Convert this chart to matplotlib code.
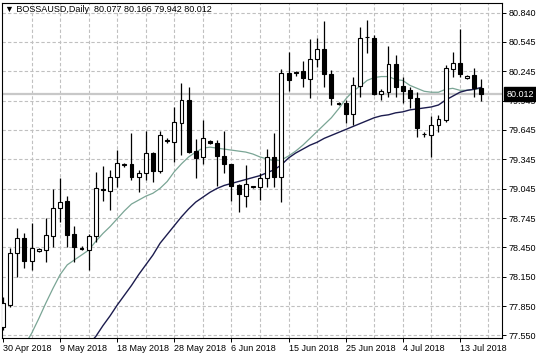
import numpy as np
import matplotlib
matplotlib.use('Agg')
import matplotlib.pyplot as plt

# daily bars (MT4 style, sunday bars included)
opens = [77.633, 77.860, 78.388, 78.541, 78.309, 78.410, 78.422, 78.564, 78.847, 78.922,
         78.582, 78.445, 78.421, 78.567, 79.040, 79.027, 79.163, 79.290, 79.296, 79.163,
         79.204, 79.414, 79.231, 79.540, 79.527, 79.721, 79.952, 79.432, 79.367, 79.530,
         79.510, 79.384, 79.296, 79.085, 78.976, 79.060, 79.061, 79.159, 79.374, 79.163,
         80.225, 80.240, 80.251, 80.166, 80.367, 80.469, 80.214, 79.925, 79.918, 79.806,
         80.095, 80.595, 80.588, 80.013, 80.037, 80.316, 80.095, 80.054, 79.969, 79.605,
         79.595, 79.697, 79.748, 80.268, 80.326, 80.173, 80.207, 80.077]
highs = [77.945, 78.439, 78.643, 78.592, 78.694, 78.440, 78.745, 79.041, 79.159, 78.976,
         78.666, 78.460, 78.582, 79.214, 79.282, 79.238, 79.442, 79.310, 79.612, 79.238,
         79.636, 79.425, 79.636, 79.560, 79.884, 80.123, 80.088, 79.551, 79.748, 79.540,
         79.544, 79.636, 79.296, 79.092, 79.289, 79.075, 79.204, 79.452, 79.612, 80.265,
         80.445, 80.245, 80.350, 80.575, 80.580, 80.761, 80.258, 79.935, 79.952, 80.190,
         80.700, 80.768, 80.615, 80.064, 80.506, 80.411, 80.190, 80.088, 80.037, 79.625,
         79.789, 79.799, 80.309, 80.445, 80.677, 80.205, 80.276, 80.166]
lows = [77.605, 77.843, 78.149, 78.235, 78.218, 78.400, 78.302, 78.455, 78.710, 78.455,
        78.302, 78.420, 78.218, 78.506, 78.925, 78.830, 79.067, 79.270, 79.136, 79.016,
        79.136, 79.119, 79.204, 79.510, 79.323, 79.391, 79.408, 79.153, 79.296, 79.500,
        79.075, 79.204, 78.925, 78.812, 78.863, 79.055, 78.932, 79.061, 79.067, 78.914,
        80.047, 80.200, 80.088, 79.976, 80.292, 80.082, 79.901, 79.905, 79.721, 79.697,
        79.986, 80.429, 80.003, 79.952, 79.986, 79.986, 79.918, 79.874, 79.578, 79.578,
        79.374, 79.629, 79.731, 80.190, 80.190, 80.165, 79.986, 79.942]
closes = [77.878, 78.388, 78.541, 78.309, 78.439, 78.430, 78.575, 78.853, 78.914, 78.575,
          78.449, 78.430, 78.567, 79.051, 79.030, 79.169, 79.306, 79.300, 79.163, 79.204,
          79.414, 79.231, 79.595, 79.535, 79.731, 79.952, 79.418, 79.363, 79.561, 79.510,
          79.381, 79.296, 79.078, 78.993, 79.092, 79.070, 79.153, 79.374, 79.170, 80.225,
          80.156, 80.230, 80.180, 80.367, 80.469, 80.217, 79.970, 79.915, 79.806, 80.105,
          80.588, 80.590, 80.010, 80.044, 80.316, 80.088, 80.044, 79.969, 79.669, 79.600,
          79.697, 79.758, 80.275, 80.326, 80.214, 80.200, 80.078, 80.012]

# moving averages
ma_fast = [76.90, 77.10, 77.28, 77.45, 77.57, 77.72, 77.88, 78.03, 78.17, 78.27,
           78.32, 78.37, 78.42, 78.51, 78.59, 78.66, 78.74, 78.82, 78.89, 78.93,
           78.97, 79.00, 79.05, 79.12, 79.22, 79.30, 79.37, 79.42, 79.46, 79.47,
           79.46, 79.45, 79.44, 79.43, 79.42, 79.40, 79.37, 79.35, 79.33, 79.34,
           79.38, 79.43, 79.49, 79.56, 79.63, 79.70, 79.77, 79.86, 79.96, 80.04,
           80.09, 80.15, 80.18, 80.19, 80.19, 80.16, 80.15, 80.10, 80.07, 80.04,
           80.03, 80.03, 80.06, 80.07, 80.05, 80.05, 80.06, 80.07]
ma_slow = [76.30, 76.40, 76.50, 76.60, 76.70, 76.80, 76.90, 77.00, 77.10, 77.20,
           77.30, 77.38, 77.46, 77.54, 77.65, 77.75, 77.86, 77.96, 78.06, 78.17,
           78.27, 78.37, 78.49, 78.58, 78.67, 78.76, 78.84, 78.91, 78.96, 79.01,
           79.05, 79.08, 79.10, 79.12, 79.14, 79.16, 79.18, 79.21, 79.24, 79.29,
           79.36, 79.41, 79.45, 79.49, 79.52, 79.56, 79.59, 79.62, 79.65, 79.68,
           79.71, 79.74, 79.77, 79.79, 79.80, 79.82, 79.83, 79.85, 79.86, 79.87,
           79.88, 79.90, 79.95, 79.99, 80.03, 80.05, 80.06, 80.08]

price_ticks = [80.840, 80.545, 80.245, 79.945, 79.645, 79.345, 79.045, 78.745,
               78.450, 78.150, 77.850, 77.550]
date_labels = ['30 Apr 2018', '9 May 2018', '18 May 2018', '28 May 2018', '6 Jun 2018',
               '15 Jun 2018', '25 Jun 2018', '4 Jul 2018', '13 Jul 2018']
symbol = 'BOSSAUSD,Daily'
last_price = 80.012

FONT = ['Liberation Sans Narrow', 'Liberation Sans', 'DejaVu Sans']
GRID = dict(color='#c0c0c0', linestyle=(0, (3, 2)), linewidth=0.8, zorder=0)

W, H = 536, 357
fig = plt.figure(figsize=(W / 100, H / 100), dpi=100)
fig.patch.set_facecolor('white')
ax = fig.add_axes([2 / W, 1 - 338 / H, 500 / W, 335 / H])

n = len(opens)
x = np.arange(n)
o = np.array(opens); c = np.array(closes)
hi = np.array(highs); lo = np.array(lows)

# grid: horizontal at price levels, vertical every 4 bars
for p in price_ticks:
    ax.axhline(p, **GRID)
for gx in range(4, 70, 4):
    ax.axvline(gx, **GRID)

# current price line
ax.axhline(last_price, color='#c8c8c8', linewidth=1.6, zorder=1)

# moving averages
ax.plot(x, ma_fast, color='#7aa595', linewidth=0.9, zorder=2)
ax.plot(x, ma_slow, color='#1c1c4e', linewidth=1.0, zorder=2)

# candles
ax.vlines(x, lo, hi, color='black', linewidth=0.9, zorder=3)
up = c >= o
body_h = np.maximum(np.abs(c - o), 0.004)
ax.bar(x, body_h, bottom=np.minimum(o, c), width=0.55,
       color=np.where(up, 'white', 'black'), edgecolor='black', linewidth=0.8, zorder=4)

ax.set_xlim(-0.14, 69.9)
ax.set_ylim(77.524, 80.94)

# axes styling
for s in ax.spines.values():
    s.set_color('black')
    s.set_linewidth(0.8)
ax.yaxis.tick_right()
ax.set_yticks(price_ticks)
ax.set_yticklabels([f'{v:.3f}' for v in price_ticks], family=FONT)
ax.tick_params(axis='y', length=3, width=0.7, pad=2, labelsize=6.5, colors='black')

# date labels every 8 bars, left aligned at the tick
ax.set_xticks(np.arange(0, 8 * len(date_labels), 8))
ax.set_xticklabels(date_labels, family=FONT, fontsize=6.5, ha='left')
ax.tick_params(axis='x', length=3, width=0.7, pad=1.5)

# header
hdr = f'\u25bc {symbol}  {opens[-1]:.3f} {highs[-1]:.3f} {lows[-1]:.3f} {closes[-1]:.3f}'
fig.text(5 / W, 1 - 9 / H, hdr, family=FONT, fontsize=6.5, va='center', ha='left')

# price box
ax.annotate(f'{last_price:.3f}', xy=(1.0, last_price), xycoords=('axes fraction', 'data'),
            xytext=(3, 0), textcoords='offset points', va='center', ha='left',
            family=FONT, fontsize=6.5, color='white', annotation_clip=False,
            bbox=dict(boxstyle='square,pad=0.25', fc='black', ec='black'))

fig.savefig('out.png', dpi=100)
